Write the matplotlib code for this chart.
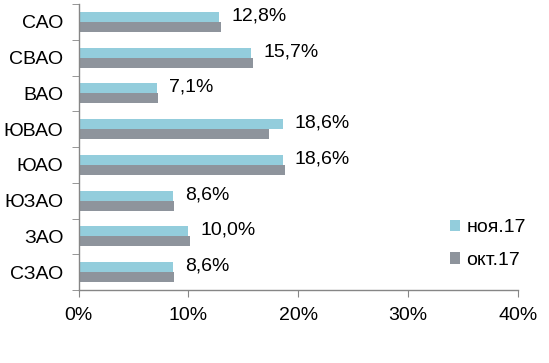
import numpy as np
import matplotlib.pyplot as plt
from matplotlib.ticker import FuncFormatter

plt.rcParams['font.family'] = ['Liberation Sans', 'DejaVu Sans']

districts = ['САО', 'СВАО', 'ВАО', 'ЮВАО', 'ЮАО', 'ЮЗАО', 'ЗАО', 'СЗАО']
nov17 = [12.8, 15.7, 7.1, 18.6, 18.6, 8.6, 10.0, 8.6]
oct17 = [13.0, 15.9, 7.2, 17.3, 18.8, 8.7, 10.1, 8.7]
series_names = ['ноя.17', 'окт.17']

c_nov = '#93CDDC'
c_oct = '#8E949C'
c_axis = '#868686'
fs = 14

fig = plt.figure(figsize=(5.49, 3.63), dpi=100)
ax = fig.add_axes([0.1434, 0.201, 0.7996, 0.788])

y = np.arange(len(districts))
h = 0.28
ax.barh(y - h / 2, nov17, height=h, color=c_nov, label=series_names[0])
ax.barh(y + h / 2, oct17, height=h, color=c_oct, label=series_names[1])

for yi, v in zip(y, nov17):
    ax.text(v + 1.1, yi - h / 2 - 0.03, f'{v:.1f}%'.replace('.', ','),
            va='center', ha='left', fontsize=fs)

ax.set_xlim(0, 40)
ax.set_ylim(len(districts) - 0.5, -0.5)
ax.set_xticks([0, 10, 20, 30, 40])
ax.xaxis.set_major_formatter(FuncFormatter(lambda v, p: f'{v:.0f}%'))
ax.set_yticks(y)
ax.set_yticklabels(districts)
ax.set_yticks(np.arange(len(districts) + 1) - 0.5, minor=True)

for s in ['top', 'right']:
    ax.spines[s].set_visible(False)
for s in ['left', 'bottom']:
    ax.spines[s].set_color(c_axis)
    ax.spines[s].set_linewidth(1)

ax.tick_params(axis='y', which='major', length=0, pad=11, labelsize=fs)
ax.tick_params(axis='y', which='minor', length=5, color=c_axis)
ax.tick_params(axis='x', length=5, color=c_axis, pad=7, labelsize=fs)

ax.legend(loc='center left', bbox_to_anchor=(0.805, 0.16), frameon=False,
          fontsize=fs, handlelength=0.55, handleheight=0.55, handletextpad=0.3,
          labelspacing=0.8)

fig.savefig('out.png', dpi=100)
